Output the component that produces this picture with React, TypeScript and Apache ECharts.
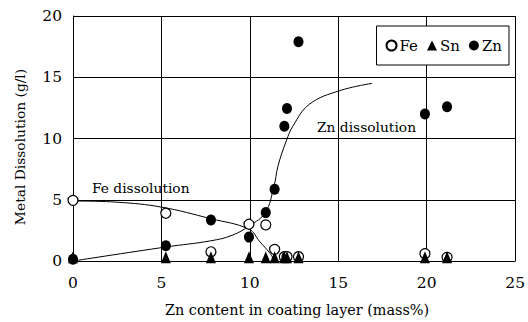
import React, { useEffect, useRef } from "react";
import * as echarts from "echarts";

const sampleX = [0, 5.25, 7.8, 9.95, 10.9, 11.4, 11.95, 12.1, 12.75, 19.9, 21.15];
const feValues = [4.95, 3.9, 0.75, 3.0, 2.95, 0.95, 0.35, 0.35, 0.35, 0.6, 0.3];
const snValues = [0.3, 0.3, 0.3, 0.3, 0.3, 0.3, 0.3, 0.3, 0.3, 0.3, 0.3];
const znValues = [0.15, 1.25, 3.35, 1.95, 3.95, 5.85, 11.0, 12.45, 17.9, 12.0, 12.6];

const feCurveX = [0, 2.5, 5, 7.8, 9.95, 10.55, 11.1, 11.35];
const feCurveY = [4.9, 4.8, 4.4, 3.45, 2.6, 1.6, 0.7, 0.15];
const znCurveX = [0, 5.28, 7.8, 9, 10, 10.87, 11.35, 11.6, 12.06, 12.43, 13.37, 15.07, 16.9];
const znCurveY = [0, 1.15, 1.65, 2.1, 2.9, 3.95, 6.0, 7.8, 9.8, 11.0, 12.8, 13.9, 14.5];

const xTicks = { min: 0, max: 25, interval: 5 };
const yTicks = { min: 0, max: 20, interval: 5 };

const FONT = "DejaVu Serif";

const zip = (xs: number[], ys: number[]) => xs.map((x, i) => [x, ys[i]]);

export default function App() {
  const ref = useRef<HTMLDivElement>(null);
  useEffect(() => {
    if (!ref.current) return;
    const chart = echarts.init(ref.current, undefined, { renderer: "svg" });
    const black = "#000";
    chart.setOption({
      animation: false,
      backgroundColor: "#fff",
      textStyle: { fontFamily: FONT },
      grid: { left: 73, right: 12, top: 16, bottom: 60, containLabel: false },
      legend: {
        data: ["Fe", "Sn", "Zn"],
        right: 19,
        top: 26,
        orient: "horizontal",
        padding: [12, 7, 12, 9],
        itemGap: 9,
        itemWidth: 10,
        itemHeight: 10,
        borderColor: black,
        borderWidth: 1,
        backgroundColor: "#fff",
        textStyle: { fontFamily: FONT, fontSize: 15, color: black, padding: [0, 0, 0, -2] },
      },
      xAxis: {
        type: "value",
        min: xTicks.min,
        max: xTicks.max,
        interval: xTicks.interval,
        name: "Zn content in coating layer (mass%)",
        nameLocation: "middle",
        nameGap: 42,
        nameTextStyle: { fontFamily: FONT, fontSize: 14.4, color: black, padding: [0, 0, 0, 6] },
        axisLine: { lineStyle: { color: black, width: 1 } },
        axisTick: { show: false },
        axisLabel: { fontFamily: FONT, fontSize: 15.5, color: black, margin: 14 },
        splitLine: { show: true, lineStyle: { color: black, width: 1 } },
      },
      yAxis: {
        type: "value",
        min: yTicks.min,
        max: yTicks.max,
        interval: yTicks.interval,
        axisLine: { show: true, lineStyle: { color: black, width: 1 } },
        axisTick: { show: false },
        axisLabel: { fontFamily: FONT, fontSize: 15.5, color: black, margin: 11 },
        splitLine: { show: true, lineStyle: { color: black, width: 1 } },
      },
      graphic: [
        {
          type: "text",
          x: 20,
          y: 147,
          rotation: Math.PI / 2,
          style: {
            text: "Metal Dissolution (g/l)",
            fontFamily: FONT,
            fontSize: 13.8,
            fill: black,
            align: "center",
            verticalAlign: "middle",
          },
        },
        {
          type: "text",
          x: 92,
          y: 188,
          z: 10,
          style: {
            text: "Fe dissolution",
            fontFamily: FONT,
            fontSize: 13.8,
            fill: black,
            align: "left",
            verticalAlign: "middle",
          },
        },
        {
          type: "text",
          x: 317,
          y: 127,
          z: 10,
          style: {
            text: "Zn dissolution",
            fontFamily: FONT,
            fontSize: 13.8,
            fill: black,
            align: "left",
            verticalAlign: "middle",
          },
        },
      ],
      series: [
        {
          name: "Fe curve",
          type: "line",
          data: zip(feCurveX, feCurveY),
          smooth: 0.4,
          showSymbol: false,
          symbol: "none",
          lineStyle: { color: black, width: 1 },
          z: 2,
        },
        {
          name: "Zn curve",
          type: "line",
          data: zip(znCurveX, znCurveY),
          smooth: 0.4,
          showSymbol: false,
          symbol: "none",
          lineStyle: { color: black, width: 1 },
          z: 2,
        },
        {
          name: "Fe",
          type: "scatter",
          symbol: "circle",
          symbolSize: 10,
          data: zip(sampleX, feValues),
          itemStyle: { color: "#fff", borderColor: black, borderWidth: 1.2, opacity: 1 },
          z: 3,
        },
        {
          name: "Sn",
          type: "scatter",
          symbol: "triangle",
          symbolSize: [10, 12],
          data: zip(sampleX, snValues),
          itemStyle: { color: black, opacity: 1 },
          z: 5,
        },
        {
          name: "Zn",
          type: "scatter",
          symbol: "circle",
          symbolSize: [10, 11],
          data: zip(sampleX, znValues),
          itemStyle: { color: black, opacity: 1 },
          z: 4,
        },
      ],
    });
    return () => chart.dispose();
  }, []);
  return <div ref={ref} style={{ width: 528, height: 322, position: "absolute", left: 0, top: 0 }} />;
}
